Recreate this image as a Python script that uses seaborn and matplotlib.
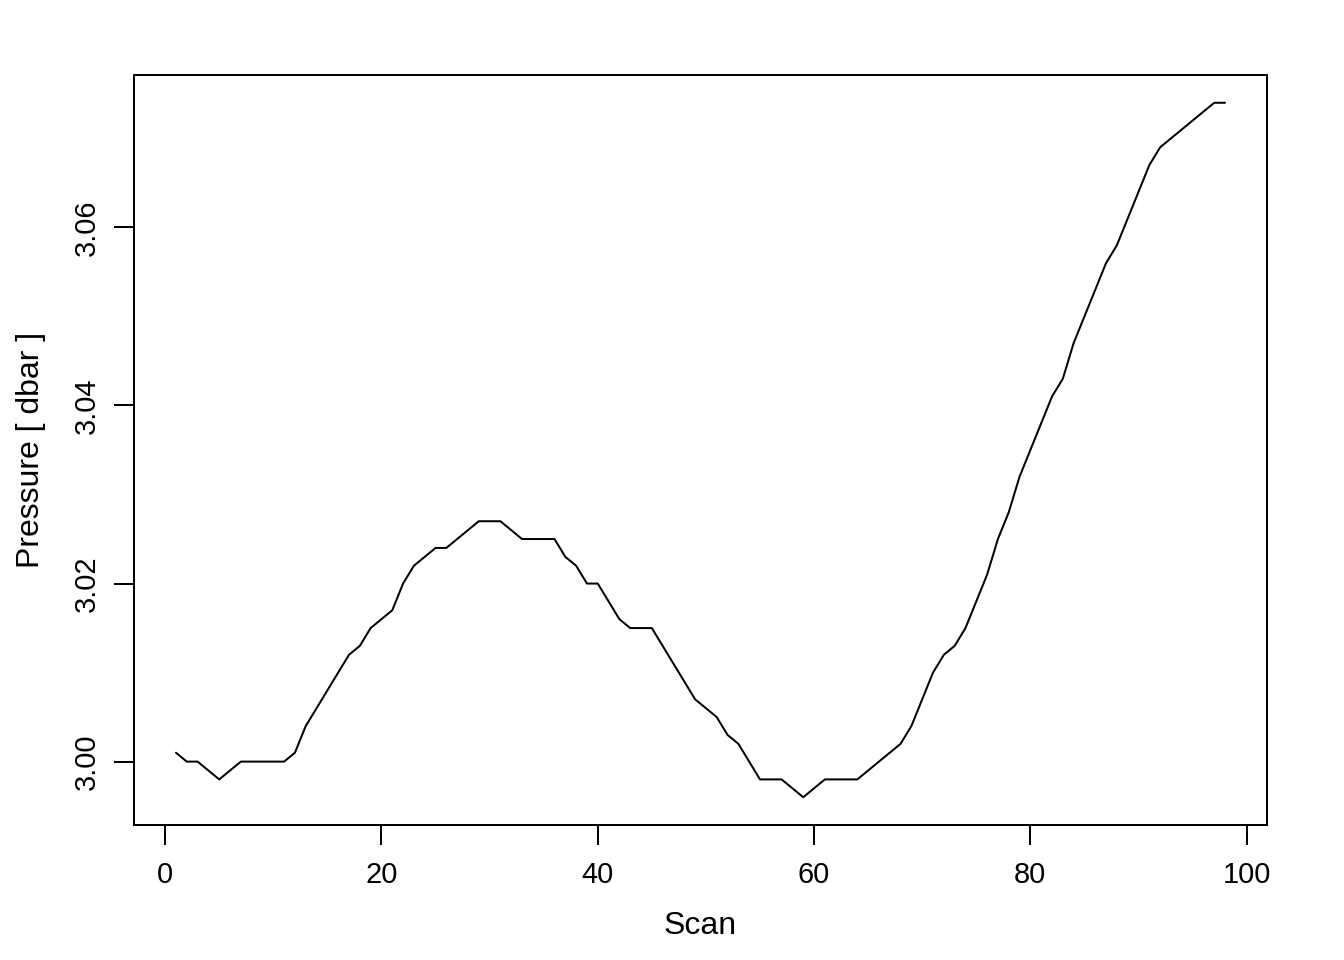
import numpy as np
import pandas as pd
import matplotlib
matplotlib.use("Agg")
import matplotlib.pyplot as plt
import seaborn as sns

# scan index and pressure readings (dbar)
scan = list(range(1, 99))
pressure = [3.001, 3.000, 3.000, 2.999, 2.998, 2.999, 3.000, 3.000, 3.000, 3.000,
            3.000, 3.001, 3.004, 3.006, 3.008, 3.010, 3.012, 3.013, 3.015, 3.016,
            3.017, 3.020, 3.022, 3.023, 3.024, 3.024, 3.025, 3.026, 3.027, 3.027,
            3.027, 3.026, 3.025, 3.025, 3.025, 3.025, 3.023, 3.022, 3.020, 3.020,
            3.018, 3.016, 3.015, 3.015, 3.015, 3.013, 3.011, 3.009, 3.007, 3.006,
            3.005, 3.003, 3.002, 3.000, 2.998, 2.998, 2.998, 2.997, 2.996, 2.997,
            2.998, 2.998, 2.998, 2.998, 2.999, 3.000, 3.001, 3.002, 3.004, 3.007,
            3.010, 3.012, 3.013, 3.015, 3.018, 3.021, 3.025, 3.028, 3.032, 3.035,
            3.038, 3.041, 3.043, 3.047, 3.050, 3.053, 3.056, 3.058, 3.061, 3.064,
            3.067, 3.069, 3.070, 3.071, 3.072, 3.073, 3.074, 3.074]
xticks = [0, 20, 40, 60, 80, 100]
yticks = [3.00, 3.02, 3.04, 3.06]

df = pd.DataFrame({"Scan": scan, "Pressure": pressure})

sns.set_theme(style="white")
plt.rcParams["font.family"] = ["Liberation Sans", "DejaVu Sans"]
plt.rcParams["axes.linewidth"] = 1.0

fig = plt.figure(figsize=(1344 / 144, 960 / 144), dpi=144)
ax = fig.add_axes([134 / 1344, 1 - 825 / 960, (1267 - 134) / 1344, (825 - 75) / 960])

sns.lineplot(data=df, x="Scan", y="Pressure", color="black", linewidth=1.0, ax=ax)

# R style 4% padding
xr = max(scan) - min(scan)
yr = max(pressure) - min(pressure)
ax.set_xlim(min(scan) - 0.04 * xr, max(scan) + 0.04 * xr)
ax.set_ylim(min(pressure) - 0.04 * yr, max(pressure) + 0.04 * yr)

ax.set_xticks(xticks)
ax.set_xticklabels([str(t) for t in xticks])
ax.set_yticks(yticks)
ax.set_yticklabels(["%.2f" % t for t in yticks], rotation=90, va="center")

ax.tick_params(axis="both", direction="out", length=10, width=1.0,
               color="black", labelsize=14.5, labelcolor="black",
               bottom=True, left=True, top=False, right=False)
ax.tick_params(axis="x", pad=8)
ax.tick_params(axis="y", pad=6.5)

for s in ax.spines.values():
    s.set_color("black")
    s.set_linewidth(1.0)

ax.set_xlabel("Scan", fontsize=16, color="black", labelpad=11)
ax.set_ylabel("Pressure [ dbar ]", fontsize=16, color="black", labelpad=13.5)

fig.savefig("out.png", dpi=144, facecolor="white")
